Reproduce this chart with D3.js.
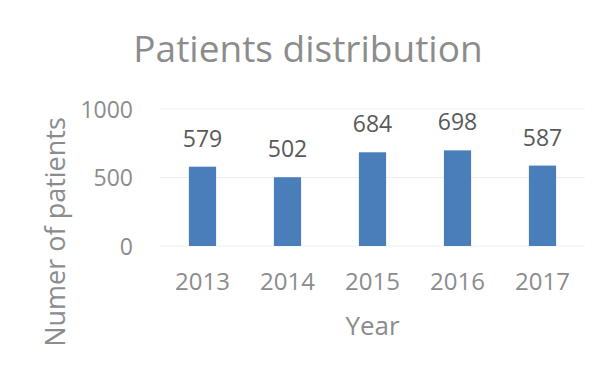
<!DOCTYPE html>
<html>
<head>
<meta charset="utf-8">
<script src="https://cdn.jsdelivr.net/npm/d3@7"></script>
<style>
  body { margin: 0; background: #fff; }
  text { font-family: "Open Sans", "Noto Sans", sans-serif; }
</style>
</head>
<body>
<div id="chart"></div>
<script>
const years = ["2013", "2014", "2015", "2016", "2017"];
const patients = [579, 502, 684, 698, 587];
const yTicks = [0, 500, 1000];

const width = 612, height = 375;
const margin = {top: 109, right: 27, bottom: 129, left: 160};

const svg = d3.select("#chart").append("svg")
    .attr("width", width)
    .attr("height", height);

const x = d3.scaleBand()
    .domain(years)
    .range([margin.left, width - margin.right])
    .paddingInner(0.68)
    .paddingOuter(0.34);

const y = d3.scaleLinear()
    .domain([0, 1000])
    .range([height - margin.bottom, margin.top]);

// gridlines
svg.append("g")
    .selectAll("line")
    .data(yTicks)
    .join("line")
    .attr("x1", margin.left)
    .attr("x2", width - margin.right)
    .attr("y1", d => y(d))
    .attr("y2", d => y(d))
    .attr("stroke", "#efefef")
    .attr("stroke-width", 1);

// y axis
const yAxis = svg.append("g")
    .attr("transform", `translate(${margin.left - 27},0)`)
    .call(d3.axisLeft(y).tickValues(yTicks).tickFormat(d3.format("d")).tickSize(0).tickPadding(0));
yAxis.select(".domain").remove();
yAxis.selectAll("text")
    .attr("fill", "#8c8c8c")
    .style("font-size", "23px")
    .attr("dy", "0.36em");

// x axis
const xAxis = svg.append("g")
    .attr("transform", `translate(0,${y(0)})`)
    .call(d3.axisBottom(x).tickSize(0).tickPadding(27));
xAxis.select(".domain").remove();
xAxis.selectAll("text")
    .attr("fill", "#8c8c8c")
    .style("font-size", "24px");

// bars
svg.append("g")
    .selectAll("rect")
    .data(patients)
    .join("rect")
    .attr("x", (d, i) => x(years[i]))
    .attr("width", x.bandwidth())
    .attr("y", d => y(d))
    .attr("height", d => y(0) - y(d))
    .attr("fill", "#4a7ebb");

// data labels
svg.append("g")
    .selectAll("text")
    .data(patients)
    .join("text")
    .attr("x", (d, i) => x(years[i]) + x.bandwidth() / 2)
    .attr("y", d => y(d) - 20)
    .attr("text-anchor", "middle")
    .attr("fill", "#595959")
    .style("font-size", "23px")
    .text(d => d);

// title
svg.append("text")
    .attr("x", 308)
    .attr("y", 62)
    .attr("text-anchor", "middle")
    .attr("fill", "#8c8c8c")
    .style("font-size", "37px")
    .text("Patients distribution");

// axis titles
svg.append("text")
    .attr("x", (margin.left + width - margin.right) / 2)
    .attr("y", 335)
    .attr("text-anchor", "middle")
    .attr("fill", "#8c8c8c")
    .style("font-size", "26px")
    .text("Year");

svg.append("text")
    .attr("transform", "translate(65,232) rotate(-90)")
    .attr("text-anchor", "middle")
    .attr("fill", "#8c8c8c")
    .style("font-size", "27px")
    .text("Numer of patients");
</script>
</body>
</html>
